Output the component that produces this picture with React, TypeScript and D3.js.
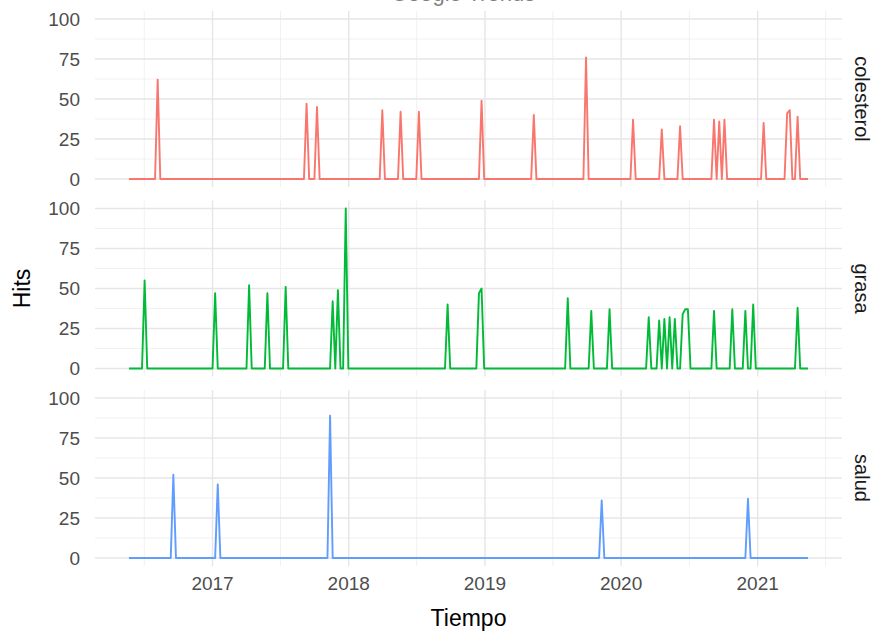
import React from "react";
import * as d3 from "d3";

// ---- data ----
const weekStart = "2016-05-22";
const weekCount = 261;
const terms = ["colesterol", "grasa", "salud"];
const termColors = ["#F8766D", "#00BA38", "#619CFF"];
const yTicks = [0, 25, 50, 75, 100];
const yMinorTicks = [12.5, 37.5, 62.5, 87.5];
const xTickYears = ["2017", "2018", "2019", "2020", "2021"];

// weeks with non-zero hits (all other weeks are 0)
const colesterolHits: [string, number][] = [
  ["2016-08-07", 62], ["2017-09-10", 47], ["2017-10-08", 45], ["2018-04-01", 43],
  ["2018-05-20", 42], ["2018-07-08", 42], ["2018-12-23", 49], ["2019-05-12", 40],
  ["2019-09-29", 76], ["2020-02-02", 37], ["2020-04-19", 31], ["2020-06-07", 33],
  ["2020-09-06", 37], ["2020-09-20", 36], ["2020-10-04", 37], ["2021-01-17", 35],
  ["2021-03-21", 41], ["2021-03-28", 43], ["2021-04-18", 39],
];
const grasaHits: [string, number][] = [
  ["2016-07-03", 55], ["2017-01-08", 47], ["2017-04-09", 52], ["2017-05-28", 47],
  ["2017-07-16", 51], ["2017-11-19", 42], ["2017-12-03", 49], ["2017-12-24", 100],
  ["2018-09-23", 40], ["2018-12-16", 47], ["2018-12-23", 50], ["2019-08-11", 44],
  ["2019-10-13", 36], ["2019-12-01", 37], ["2020-03-15", 32], ["2020-04-12", 30],
  ["2020-04-26", 31], ["2020-05-10", 32], ["2020-05-24", 31], ["2020-06-14", 34],
  ["2020-06-21", 37], ["2020-06-28", 37], ["2020-09-06", 36], ["2020-10-25", 37],
  ["2020-11-29", 36], ["2020-12-20", 40], ["2021-04-18", 38],
];
const saludHits: [string, number][] = [
  ["2016-09-18", 52], ["2017-01-15", 46], ["2017-11-12", 89], ["2019-11-10", 36],
  ["2020-12-06", 37],
];
const seriesHits = [colesterolHits, grasaHits, saludHits];

// ---- layout ----
const W = 875, H = 633;
const PANEL_LEFT = 95, PANEL_RIGHT = 842;
const PANEL_TOP0 = 11, PANEL_H = 176, PANEL_STEP = 189.5;
const FONT = "'Liberation Sans', Arial, sans-serif";

export default function App() {
  const parse = d3.timeParse("%Y-%m-%d");
  const fmt = d3.timeFormat("%Y-%m-%d");
  const start = parse(weekStart)!;
  const weeks = d3.range(weekCount).map((i) => d3.timeDay.offset(start, 7 * i));
  const end = weeks[weeks.length - 1];
  const span = end.getTime() - start.getTime();
  const x = d3
    .scaleTime()
    .domain([new Date(start.getTime() - span * 0.05), new Date(end.getTime() + span * 0.05)])
    .range([PANEL_LEFT, PANEL_RIGHT]);

  const yearTicks = xTickYears.map((y) => parse(`${y}-01-01`)!);
  const minorX = d3.range(2016, 2022).map((y) => parse(`${y}-07-02`)!).filter((d) => x(d) >= PANEL_LEFT && x(d) <= PANEL_RIGHT);

  const series = seriesHits.map((hits) => {
    const m = new Map(hits.map(([d, v]) => [d, v]));
    return weeks.map((d) => ({ date: d, value: m.get(fmt(d)) ?? 0 }));
  });

  return (
    <svg width={W} height={H} style={{ position: "absolute", left: 0, top: 0, background: "#fff" }} fontFamily={FONT}>
      <rect width={W} height={H} fill="#fff" />
      <text x={463} y={1} textAnchor="middle" fontSize={22} fill="#000" opacity={0.5}>Google Trends</text>
      {terms.map((term, k) => {
        const top = PANEL_TOP0 + k * PANEL_STEP;
        const y = d3.scaleLinear().domain([-5, 105]).range([top + PANEL_H, top]);
        const line = d3
          .line<{ date: Date; value: number }>()
          .x((d) => x(d.date))
          .y((d) => y(d.value));
        return (
          <g key={term}>
            {yMinorTicks.map((t) => (
              <line key={"ym" + t} x1={PANEL_LEFT} x2={PANEL_RIGHT} y1={y(t)} y2={y(t)} stroke="#EEEEEE" strokeWidth={0.8} />
            ))}
            {minorX.map((d, i) => (
              <line key={"xm" + i} x1={x(d)} x2={x(d)} y1={top} y2={top + PANEL_H} stroke="#EEEEEE" strokeWidth={0.8} />
            ))}
            {yTicks.map((t) => (
              <line key={"y" + t} x1={PANEL_LEFT} x2={PANEL_RIGHT} y1={y(t)} y2={y(t)} stroke="#E6E6E6" strokeWidth={1.4} />
            ))}
            {yearTicks.map((d, i) => (
              <line key={"x" + i} x1={x(d)} x2={x(d)} y1={top} y2={top + PANEL_H} stroke="#E6E6E6" strokeWidth={1.4} />
            ))}
            <path d={line(series[k]) || ""} fill="none" stroke={termColors[k]} strokeWidth={1.9} strokeLinejoin="round" />
            {yTicks.map((t) => (
              <text key={"yl" + t} x={80} y={y(t)} dy="0.35em" textAnchor="end" fontSize={19} fill="#4D4D4D">
                {t}
              </text>
            ))}
            <text
              transform={`translate(855, ${top + PANEL_H / 2}) rotate(90)`}
              textAnchor="middle"
              fontSize={20}
              fill="#1A1A1A"
            >
              {term}
            </text>
          </g>
        );
      })}
      {yearTicks.map((d, i) => (
        <text key={"xl" + i} x={x(d)} y={590} textAnchor="middle" fontSize={19} fill="#4D4D4D">
          {xTickYears[i]}
        </text>
      ))}
      <text x={(PANEL_LEFT + PANEL_RIGHT) / 2} y={626} textAnchor="middle" fontSize={23} fill="#000">
        Tiempo
      </text>
      <text transform={`translate(30, ${PANEL_TOP0 + (2 * PANEL_STEP + PANEL_H) / 2}) rotate(-90)`} textAnchor="middle" fontSize={23} fill="#000">
        Hits
      </text>
    </svg>
  );
}
